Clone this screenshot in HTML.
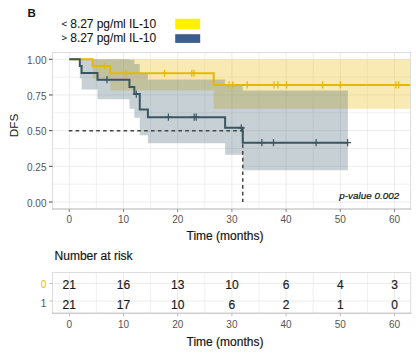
<!DOCTYPE html>
<html><head><meta charset="utf-8"><style>
html,body{margin:0;padding:0;background:#fff;width:416px;height:353px;overflow:hidden}
svg{display:block}
text{font-family:"Liberation Sans",sans-serif;stroke-width:0.18px}
.ax{font-size:10px;fill:#555}
.rt{font-size:12px;fill:#1A1A1A;stroke:#1A1A1A}
.tt{font-size:12px;fill:#141414;stroke:#141414}
.lg{font-size:12px;letter-spacing:-0.06px;fill:#141414;stroke:#141414;stroke-width:0.08px}
</style></head><body>
<svg width="416" height="353" viewBox="0 0 416 353">
<rect x="0" y="0" width="416" height="353" fill="#fff"/>
<text x="27.6" y="17.3" style="font-size:11.5px;font-weight:bold;fill:#141414">B</text>
<text x="61.5" y="26.9" class="lg" style="font-size:9.5px">&lt;</text>
<text x="70.3" y="27.8" class="lg">8.27 pg/ml IL-10</text>
<text x="61.5" y="41.3" class="lg" style="font-size:9.5px">&gt;</text>
<text x="70.3" y="42.0" class="lg">8.27 pg/ml IL-10</text>
<rect x="175.2" y="18.7" width="25" height="10.3" fill="#FFF200"/>
<rect x="175.2" y="34.2" width="25" height="8.7" fill="#3B5E8C"/>
<clipPath id="pc"><rect x="52.5" y="52.5" width="358.1" height="156.5"/></clipPath>
<line x1="69.30" y1="52.50" x2="69.30" y2="209.00" stroke="#E6E6E6" stroke-width="0.75"/>
<line x1="96.40" y1="52.50" x2="96.40" y2="209.00" stroke="#E6E6E6" stroke-width="0.60"/>
<line x1="123.50" y1="52.50" x2="123.50" y2="209.00" stroke="#E6E6E6" stroke-width="0.75"/>
<line x1="150.60" y1="52.50" x2="150.60" y2="209.00" stroke="#E6E6E6" stroke-width="0.60"/>
<line x1="177.70" y1="52.50" x2="177.70" y2="209.00" stroke="#E6E6E6" stroke-width="0.75"/>
<line x1="204.80" y1="52.50" x2="204.80" y2="209.00" stroke="#E6E6E6" stroke-width="0.60"/>
<line x1="231.90" y1="52.50" x2="231.90" y2="209.00" stroke="#E6E6E6" stroke-width="0.75"/>
<line x1="259.00" y1="52.50" x2="259.00" y2="209.00" stroke="#E6E6E6" stroke-width="0.60"/>
<line x1="286.10" y1="52.50" x2="286.10" y2="209.00" stroke="#E6E6E6" stroke-width="0.75"/>
<line x1="313.20" y1="52.50" x2="313.20" y2="209.00" stroke="#E6E6E6" stroke-width="0.60"/>
<line x1="340.30" y1="52.50" x2="340.30" y2="209.00" stroke="#E6E6E6" stroke-width="0.75"/>
<line x1="367.40" y1="52.50" x2="367.40" y2="209.00" stroke="#E6E6E6" stroke-width="0.60"/>
<line x1="394.50" y1="52.50" x2="394.50" y2="209.00" stroke="#E6E6E6" stroke-width="0.75"/>
<line x1="52.50" y1="202.00" x2="410.60" y2="202.00" stroke="#E6E6E6" stroke-width="0.75"/>
<line x1="52.50" y1="184.16" x2="410.60" y2="184.16" stroke="#E6E6E6" stroke-width="0.60"/>
<line x1="52.50" y1="166.32" x2="410.60" y2="166.32" stroke="#E6E6E6" stroke-width="0.75"/>
<line x1="52.50" y1="148.49" x2="410.60" y2="148.49" stroke="#E6E6E6" stroke-width="0.60"/>
<line x1="52.50" y1="130.65" x2="410.60" y2="130.65" stroke="#E6E6E6" stroke-width="0.75"/>
<line x1="52.50" y1="112.81" x2="410.60" y2="112.81" stroke="#E6E6E6" stroke-width="0.60"/>
<line x1="52.50" y1="94.98" x2="410.60" y2="94.98" stroke="#E6E6E6" stroke-width="0.75"/>
<line x1="52.50" y1="77.14" x2="410.60" y2="77.14" stroke="#E6E6E6" stroke-width="0.60"/>
<line x1="52.50" y1="59.30" x2="410.60" y2="59.30" stroke="#E6E6E6" stroke-width="0.75"/>
<g clip-path="url(#pc)">
<path d="M69.30 59.30 L92.55 59.30 L92.55 59.30 L110.28 59.30 L110.28 59.30 L213.74 59.30 L213.74 59.30 L410.76 59.30 L410.76 108.63 L213.74 108.63 L213.74 90.38 L110.28 90.38 L110.28 78.49 L92.55 78.49 L92.55 59.30 L69.30 59.30 Z" fill="#E7B800" fill-opacity="0.3"/>
<path d="M69.30 59.30 L79.81 59.30 L79.81 59.30 L81.60 59.30 L81.60 59.30 L97.48 59.30 L97.48 59.30 L129.46 59.30 L129.46 59.81 L134.34 59.81 L134.34 63.95 L139.76 63.95 L139.76 73.83 L147.89 73.83 L147.89 79.48 L225.12 79.48 L225.12 85.43 L242.74 85.43 L242.74 90.62 L347.89 90.62 L347.89 170.37 L242.74 170.37 L242.74 154.77 L225.12 154.77 L225.12 143.31 L147.89 143.31 L147.89 135.24 L139.76 135.24 L139.76 117.63 L134.34 117.63 L134.34 108.80 L129.46 108.80 L129.46 99.28 L97.48 99.28 L97.48 89.62 L81.60 89.62 L81.60 78.49 L79.81 78.49 L79.81 59.30 L69.30 59.30 Z" fill="#456470" fill-opacity="0.3"/>
<path d="M68.8 130.65 H242.74" stroke="#444" stroke-width="1.5" stroke-dasharray="3.6 3.25" fill="none"/>
<path d="M242.74 130.65 V202.00" stroke="#444" stroke-width="1.5" stroke-dasharray="3.6 3.2" fill="none"/>
<path d="M69.30 59.30 H92.55 V66.10 H110.28 V73.25 H213.74 V84.95 H410.76" stroke="#E7B800" stroke-width="2" fill="none"/>
<path d="M69.30 59.30 H79.81 V66.10 H81.60 V72.89 H97.48 V79.69 H129.46 V86.88 H134.34 V94.08 H139.76 V109.49 H147.89 V117.20 H225.12 V127.80 H242.74 V142.64 H347.89" stroke="#3A5660" stroke-width="2" fill="none"/>
<path d="M101.50 66.10 h7 M105.00 62.50 v7.2" stroke="#E7B800" stroke-width="1.25" fill="none"/>
<path d="M122.30 73.25 h7 M125.80 69.65 v7.2" stroke="#E7B800" stroke-width="1.25" fill="none"/>
<path d="M161.00 73.25 h7 M164.50 69.65 v7.2" stroke="#E7B800" stroke-width="1.25" fill="none"/>
<path d="M188.30 73.25 h7 M191.80 69.65 v7.2" stroke="#E7B800" stroke-width="1.25" fill="none"/>
<path d="M190.50 73.25 h7 M194.00 69.65 v7.2" stroke="#E7B800" stroke-width="1.25" fill="none"/>
<path d="M225.50 84.95 h7 M229.00 81.35 v7.2" stroke="#E7B800" stroke-width="1.25" fill="none"/>
<path d="M229.40 84.95 h7 M232.90 81.35 v7.2" stroke="#E7B800" stroke-width="1.25" fill="none"/>
<path d="M243.70 84.95 h7 M247.20 81.35 v7.2" stroke="#E7B800" stroke-width="1.25" fill="none"/>
<path d="M270.50 84.95 h7 M274.00 81.35 v7.2" stroke="#E7B800" stroke-width="1.25" fill="none"/>
<path d="M274.40 84.95 h7 M277.90 81.35 v7.2" stroke="#E7B800" stroke-width="1.25" fill="none"/>
<path d="M283.00 84.95 h7 M286.50 81.35 v7.2" stroke="#E7B800" stroke-width="1.25" fill="none"/>
<path d="M319.20 84.95 h7 M322.70 81.35 v7.2" stroke="#E7B800" stroke-width="1.25" fill="none"/>
<path d="M336.80 84.95 h7 M340.30 81.35 v7.2" stroke="#E7B800" stroke-width="1.25" fill="none"/>
<path d="M392.50 84.95 h7 M396.00 81.35 v7.2" stroke="#E7B800" stroke-width="1.25" fill="none"/>
<path d="M395.10 84.95 h7 M398.60 81.35 v7.2" stroke="#E7B800" stroke-width="1.25" fill="none"/>
<path d="M103.50 79.69 h7 M107.00 76.09 v7.2" stroke="#3A5660" stroke-width="1.25" fill="none"/>
<path d="M132.80 94.08 h7 M136.30 90.48 v7.2" stroke="#3A5660" stroke-width="1.25" fill="none"/>
<path d="M164.90 117.20 h7 M168.40 113.60 v7.2" stroke="#3A5660" stroke-width="1.25" fill="none"/>
<path d="M190.70 117.20 h7 M194.20 113.60 v7.2" stroke="#3A5660" stroke-width="1.25" fill="none"/>
<path d="M192.70 117.20 h7 M196.20 113.60 v7.2" stroke="#3A5660" stroke-width="1.25" fill="none"/>
<path d="M237.80 127.80 h7 M241.30 124.20 v7.2" stroke="#3A5660" stroke-width="1.25" fill="none"/>
<path d="M258.40 142.64 h7 M261.90 139.04 v7.2" stroke="#3A5660" stroke-width="1.25" fill="none"/>
<path d="M270.00 142.64 h7 M273.50 139.04 v7.2" stroke="#3A5660" stroke-width="1.25" fill="none"/>
<path d="M312.60 142.64 h7 M316.10 139.04 v7.2" stroke="#3A5660" stroke-width="1.25" fill="none"/>
<path d="M344.10 142.64 h7 M347.60 139.04 v7.2" stroke="#3A5660" stroke-width="1.25" fill="none"/>
</g>
<rect x="52.5" y="52.5" width="358.1" height="156.5" fill="none" stroke="#DCDCDC" stroke-width="1"/>
<line x1="52.0" y1="209.0" x2="411.1" y2="209.0" stroke="#C4C4C4" stroke-width="1.1"/>
<line x1="69.30" y1="209.00" x2="69.30" y2="212.00" stroke="#888" stroke-width="1"/>
<line x1="123.50" y1="209.00" x2="123.50" y2="212.00" stroke="#888" stroke-width="1"/>
<line x1="177.70" y1="209.00" x2="177.70" y2="212.00" stroke="#888" stroke-width="1"/>
<line x1="231.90" y1="209.00" x2="231.90" y2="212.00" stroke="#888" stroke-width="1"/>
<line x1="286.10" y1="209.00" x2="286.10" y2="212.00" stroke="#888" stroke-width="1"/>
<line x1="340.30" y1="209.00" x2="340.30" y2="212.00" stroke="#888" stroke-width="1"/>
<line x1="394.50" y1="209.00" x2="394.50" y2="212.00" stroke="#888" stroke-width="1"/>
<line x1="49.00" y1="202.00" x2="52.50" y2="202.00" stroke="#444" stroke-width="1"/>
<line x1="49.00" y1="166.32" x2="52.50" y2="166.32" stroke="#444" stroke-width="1"/>
<line x1="49.00" y1="130.65" x2="52.50" y2="130.65" stroke="#444" stroke-width="1"/>
<line x1="49.00" y1="94.98" x2="52.50" y2="94.98" stroke="#444" stroke-width="1"/>
<line x1="49.00" y1="59.30" x2="52.50" y2="59.30" stroke="#444" stroke-width="1"/>
<text x="69.30" y="223.2" text-anchor="middle" class="ax">0</text>
<text x="123.50" y="223.2" text-anchor="middle" class="ax">10</text>
<text x="177.70" y="223.2" text-anchor="middle" class="ax">20</text>
<text x="231.90" y="223.2" text-anchor="middle" class="ax">30</text>
<text x="286.10" y="223.2" text-anchor="middle" class="ax">40</text>
<text x="340.30" y="223.2" text-anchor="middle" class="ax">50</text>
<text x="394.50" y="223.2" text-anchor="middle" class="ax">60</text>
<text x="46.5" y="206.60" text-anchor="end" class="ax">0.00</text>
<text x="46.5" y="170.92" text-anchor="end" class="ax">0.25</text>
<text x="46.5" y="135.25" text-anchor="end" class="ax">0.50</text>
<text x="46.5" y="99.58" text-anchor="end" class="ax">0.75</text>
<text x="46.5" y="63.90" text-anchor="end" class="ax">1.00</text>
<text x="339.3" y="199" style="font-size:9.9px;font-style:italic;fill:#111;stroke:#111;stroke-width:0.2px">p-value 0.002</text>
<text transform="translate(17.9,125.5) rotate(-90)" text-anchor="middle" class="tt" style="stroke-width:0.05px;fill:#222;font-size:11.7px">DFS</text>
<text x="225" y="239.7" text-anchor="middle" class="tt">Time (months)</text>
<text x="54.6" y="259.9" class="tt">Number at risk</text>
<line x1="69.30" y1="272.50" x2="69.30" y2="313.20" stroke="#E6E6E6" stroke-width="0.75"/>
<line x1="96.40" y1="272.50" x2="96.40" y2="313.20" stroke="#E6E6E6" stroke-width="0.60"/>
<line x1="123.50" y1="272.50" x2="123.50" y2="313.20" stroke="#E6E6E6" stroke-width="0.75"/>
<line x1="150.60" y1="272.50" x2="150.60" y2="313.20" stroke="#E6E6E6" stroke-width="0.60"/>
<line x1="177.70" y1="272.50" x2="177.70" y2="313.20" stroke="#E6E6E6" stroke-width="0.75"/>
<line x1="204.80" y1="272.50" x2="204.80" y2="313.20" stroke="#E6E6E6" stroke-width="0.60"/>
<line x1="231.90" y1="272.50" x2="231.90" y2="313.20" stroke="#E6E6E6" stroke-width="0.75"/>
<line x1="259.00" y1="272.50" x2="259.00" y2="313.20" stroke="#E6E6E6" stroke-width="0.60"/>
<line x1="286.10" y1="272.50" x2="286.10" y2="313.20" stroke="#E6E6E6" stroke-width="0.75"/>
<line x1="313.20" y1="272.50" x2="313.20" y2="313.20" stroke="#E6E6E6" stroke-width="0.60"/>
<line x1="340.30" y1="272.50" x2="340.30" y2="313.20" stroke="#E6E6E6" stroke-width="0.75"/>
<line x1="367.40" y1="272.50" x2="367.40" y2="313.20" stroke="#E6E6E6" stroke-width="0.60"/>
<line x1="394.50" y1="272.50" x2="394.50" y2="313.20" stroke="#E6E6E6" stroke-width="0.75"/>
<line x1="52.50" y1="283.50" x2="410.80" y2="283.50" stroke="#E6E6E6" stroke-width="0.75"/>
<line x1="52.50" y1="301.00" x2="410.80" y2="301.00" stroke="#E6E6E6" stroke-width="0.75"/>
<line x1="69.30" y1="313.20" x2="69.30" y2="316.20" stroke="#B3B3B3" stroke-width="0.9"/>
<line x1="123.50" y1="313.20" x2="123.50" y2="316.20" stroke="#B3B3B3" stroke-width="0.9"/>
<line x1="177.70" y1="313.20" x2="177.70" y2="316.20" stroke="#B3B3B3" stroke-width="0.9"/>
<line x1="231.90" y1="313.20" x2="231.90" y2="316.20" stroke="#B3B3B3" stroke-width="0.9"/>
<line x1="286.10" y1="313.20" x2="286.10" y2="316.20" stroke="#B3B3B3" stroke-width="0.9"/>
<line x1="340.30" y1="313.20" x2="340.30" y2="316.20" stroke="#B3B3B3" stroke-width="0.9"/>
<line x1="394.50" y1="313.20" x2="394.50" y2="316.20" stroke="#B3B3B3" stroke-width="0.9"/>
<line x1="49.5" y1="283.50" x2="52.5" y2="283.50" stroke="#B3B3B3" stroke-width="0.9"/>
<line x1="49.5" y1="301.00" x2="52.5" y2="301.00" stroke="#B3B3B3" stroke-width="0.9"/>
<rect x="52.5" y="272.5" width="358.3" height="40.69999999999999" fill="none" stroke="#DCDCDC" stroke-width="1"/>
<line x1="52.0" y1="313.2" x2="411.3" y2="313.2" stroke="#C4C4C4" stroke-width="1.1"/>
<text x="69.30" y="289.2" text-anchor="middle" class="rt">21</text>
<text x="69.30" y="308.6" text-anchor="middle" class="rt">21</text>
<text x="69.30" y="328.0" text-anchor="middle" class="ax">0</text>
<text x="123.50" y="289.2" text-anchor="middle" class="rt">16</text>
<text x="123.50" y="308.6" text-anchor="middle" class="rt">17</text>
<text x="123.50" y="328.0" text-anchor="middle" class="ax">10</text>
<text x="177.70" y="289.2" text-anchor="middle" class="rt">13</text>
<text x="177.70" y="308.6" text-anchor="middle" class="rt">10</text>
<text x="177.70" y="328.0" text-anchor="middle" class="ax">20</text>
<text x="231.90" y="289.2" text-anchor="middle" class="rt">10</text>
<text x="231.90" y="308.6" text-anchor="middle" class="rt">6</text>
<text x="231.90" y="328.0" text-anchor="middle" class="ax">30</text>
<text x="286.10" y="289.2" text-anchor="middle" class="rt">6</text>
<text x="286.10" y="308.6" text-anchor="middle" class="rt">2</text>
<text x="286.10" y="328.0" text-anchor="middle" class="ax">40</text>
<text x="340.30" y="289.2" text-anchor="middle" class="rt">4</text>
<text x="340.30" y="308.6" text-anchor="middle" class="rt">1</text>
<text x="340.30" y="328.0" text-anchor="middle" class="ax">50</text>
<text x="394.50" y="289.2" text-anchor="middle" class="rt">3</text>
<text x="394.50" y="308.6" text-anchor="middle" class="rt">0</text>
<text x="394.50" y="328.0" text-anchor="middle" class="ax">60</text>
<text x="46.2" y="287.8" text-anchor="end" class="ax" style="fill:#E7B800">0</text>
<text x="46.2" y="307.4" text-anchor="end" class="ax" style="fill:#555">1</text>
<text x="225" y="346" text-anchor="middle" class="tt">Time (months)</text>
</svg>
</body></html>
